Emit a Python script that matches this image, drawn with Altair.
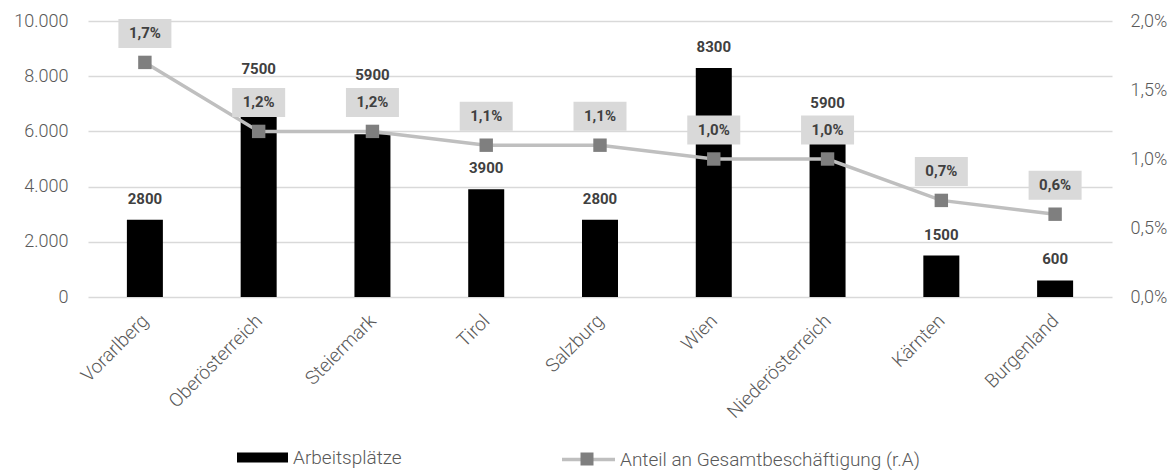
import altair as alt
import pandas as pd

regions = ["Vorarlberg", "Oberösterreich", "Steiermark", "Tirol", "Salzburg",
           "Wien", "Niederösterreich", "Kärnten", "Burgenland"]
jobs = [2800, 7500, 5900, 3900, 2800, 8300, 5900, 1500, 600]
share = [1.7, 1.2, 1.2, 1.1, 1.1, 1.0, 1.0, 0.7, 0.6]

left_ticks = [0, 2000, 4000, 6000, 8000, 10000]
right_ticks = [0, 0.5, 1.0, 1.5, 2.0]

bar_name = "Arbeitsplätze"
line_name = "Anteil an Gesamtbeschäftigung (r.A)"

df = pd.DataFrame({"region": regions, "jobs": jobs, "share": share})

W, H = 1024, 276
FONT = "Roboto"
k = 10000 / H  # left-axis units per pixel

x = alt.X("region:N", sort=regions,
          scale=alt.Scale(paddingInner=0, paddingOuter=0),
          axis=alt.Axis(title=None, labelAngle=-45, labelFont=FONT, labelFontSize=19,
                        labelFontWeight=300, labelColor="#595959", domain=False,
                        ticks=False, labelPadding=14, labelOffset=-6))

base = alt.Chart(df).encode(x=x)

left_scale = alt.Scale(domain=[0, 10000])
right_scale = alt.Scale(domain=[0, 2])

left_axis = alt.Axis(title=None, values=left_ticks, grid=True, gridColor="#d9d9d9",
                     gridWidth=1.5, domain=False, ticks=False, labelPadding=20,
                     labelFont=FONT, labelFontSize=18, labelFontWeight=300,
                     labelColor="#595959",
                     labelExpr="replace(format(datum.value, ','), ',', '.')")
right_axis = alt.Axis(title=None, orient="right", values=right_ticks, grid=False,
                      domain=False, ticks=False, labelPadding=18, labelFont=FONT,
                      labelFontSize=18, labelFontWeight=300, labelColor="#595959",
                      labelExpr="replace(format(datum.value, '.1f'), '.', ',') + '%'")

bars = base.transform_calculate(series=f"'{bar_name}'").mark_bar(size=36).encode(
    y=alt.Y("jobs:Q", scale=left_scale, axis=left_axis),
    color=alt.Color("series:N", scale=alt.Scale(domain=[bar_name], range=["#000000"]),
                    legend=alt.Legend(title=None, orient="none", legendX=149, legendY=411,
                                      symbolType="M-1,-0.2L1,-0.2L1,0.2L-1,0.2Z",
                                      symbolSize=2601, symbolStrokeWidth=0,
                                      symbolFillColor="#000000", labelFont=FONT,
                                      labelFontSize=19, labelFontWeight=300,
                                      labelColor="#595959", labelLimit=400,
                                      labelOffset=5, padding=0)),
)

bar_labels = base.transform_calculate(
    lab_base=f"datum.jobs + {21 * k}",
    box_c=f"datum.share * 5000 + {29 * k}",
).transform_calculate(
    lab=f"abs(datum.lab_base - datum.box_c) < {22.5 * k} ? datum.box_c + {27 * k} : datum.lab_base"
).mark_text(font=FONT, fontWeight="bold", fontSize=15, color="#404040", baseline="middle").encode(
    y=alt.Y("lab:Q", scale=left_scale, axis=left_axis),
    text=alt.Text("jobs:Q", format="d"),
)

line = base.transform_calculate(series2=f"'{line_name}'").mark_line(strokeWidth=3.5).encode(
    y=alt.Y("share:Q", scale=right_scale, axis=right_axis),
    stroke=alt.Stroke("series2:N", scale=alt.Scale(domain=[line_name], range=["#bfbfbf"]),
                      legend=alt.Legend(title=None, orient="none", legendX=472, legendY=410,
                                        symbolType="stroke", symbolSize=2809,
                                        symbolStrokeWidth=3.5, symbolStrokeColor="#bfbfbf",
                                        labelFont=FONT, labelFontSize=19, labelFontWeight=300,
                                        labelColor="#595959", labelLimit=400,
                                        labelOffset=3, padding=0)),
)

points = base.transform_calculate(series3="'m'").mark_point(
    filled=True, size=180, color="#7f7f7f", opacity=1).encode(
    y=alt.Y("share:Q", scale=right_scale, axis=right_axis),
    shape=alt.Shape("series3:N", scale=alt.Scale(domain=["m"], range=["square"]),
                    legend=alt.Legend(title=None, orient="none", legendX=490, legendY=429,
                                      symbolSize=169, symbolFillColor="#7f7f7f",
                                      symbolStrokeWidth=0, labelExpr="''",
                                      labelFontSize=18, padding=0)),
)

boxes = base.mark_point(shape="M-1,-0.547L1,-0.547L1,0.547L-1,0.547Z", filled=True,
                        size=2809, color="#d9d9d9", opacity=1, yOffset=-29).encode(
    y=alt.Y("share:Q", scale=right_scale, axis=right_axis),
)

box_text = base.transform_calculate(
    pl="replace(format(datum.share, '.1f'), '.', ',') + '%'"
).mark_text(font=FONT, fontWeight="bold", fontSize=15, color="#404040",
            baseline="middle", yOffset=-29).encode(
    y=alt.Y("share:Q", scale=right_scale, axis=right_axis),
    text="pl:N",
)

left_layer = alt.layer(bars, bar_labels)
right_layer = alt.layer(line, points, boxes, box_text)

chart = alt.layer(left_layer, right_layer).resolve_scale(y="independent").properties(
    width=W, height=H,
    autosize=alt.AutoSizeParams(type="none"),
    padding={"left": 88, "top": 21, "right": 64, "bottom": 173},
).configure(background="white").configure_view(stroke=None)

chart.save("out.html", embed_options={"renderer": "svg", "actions": False})
